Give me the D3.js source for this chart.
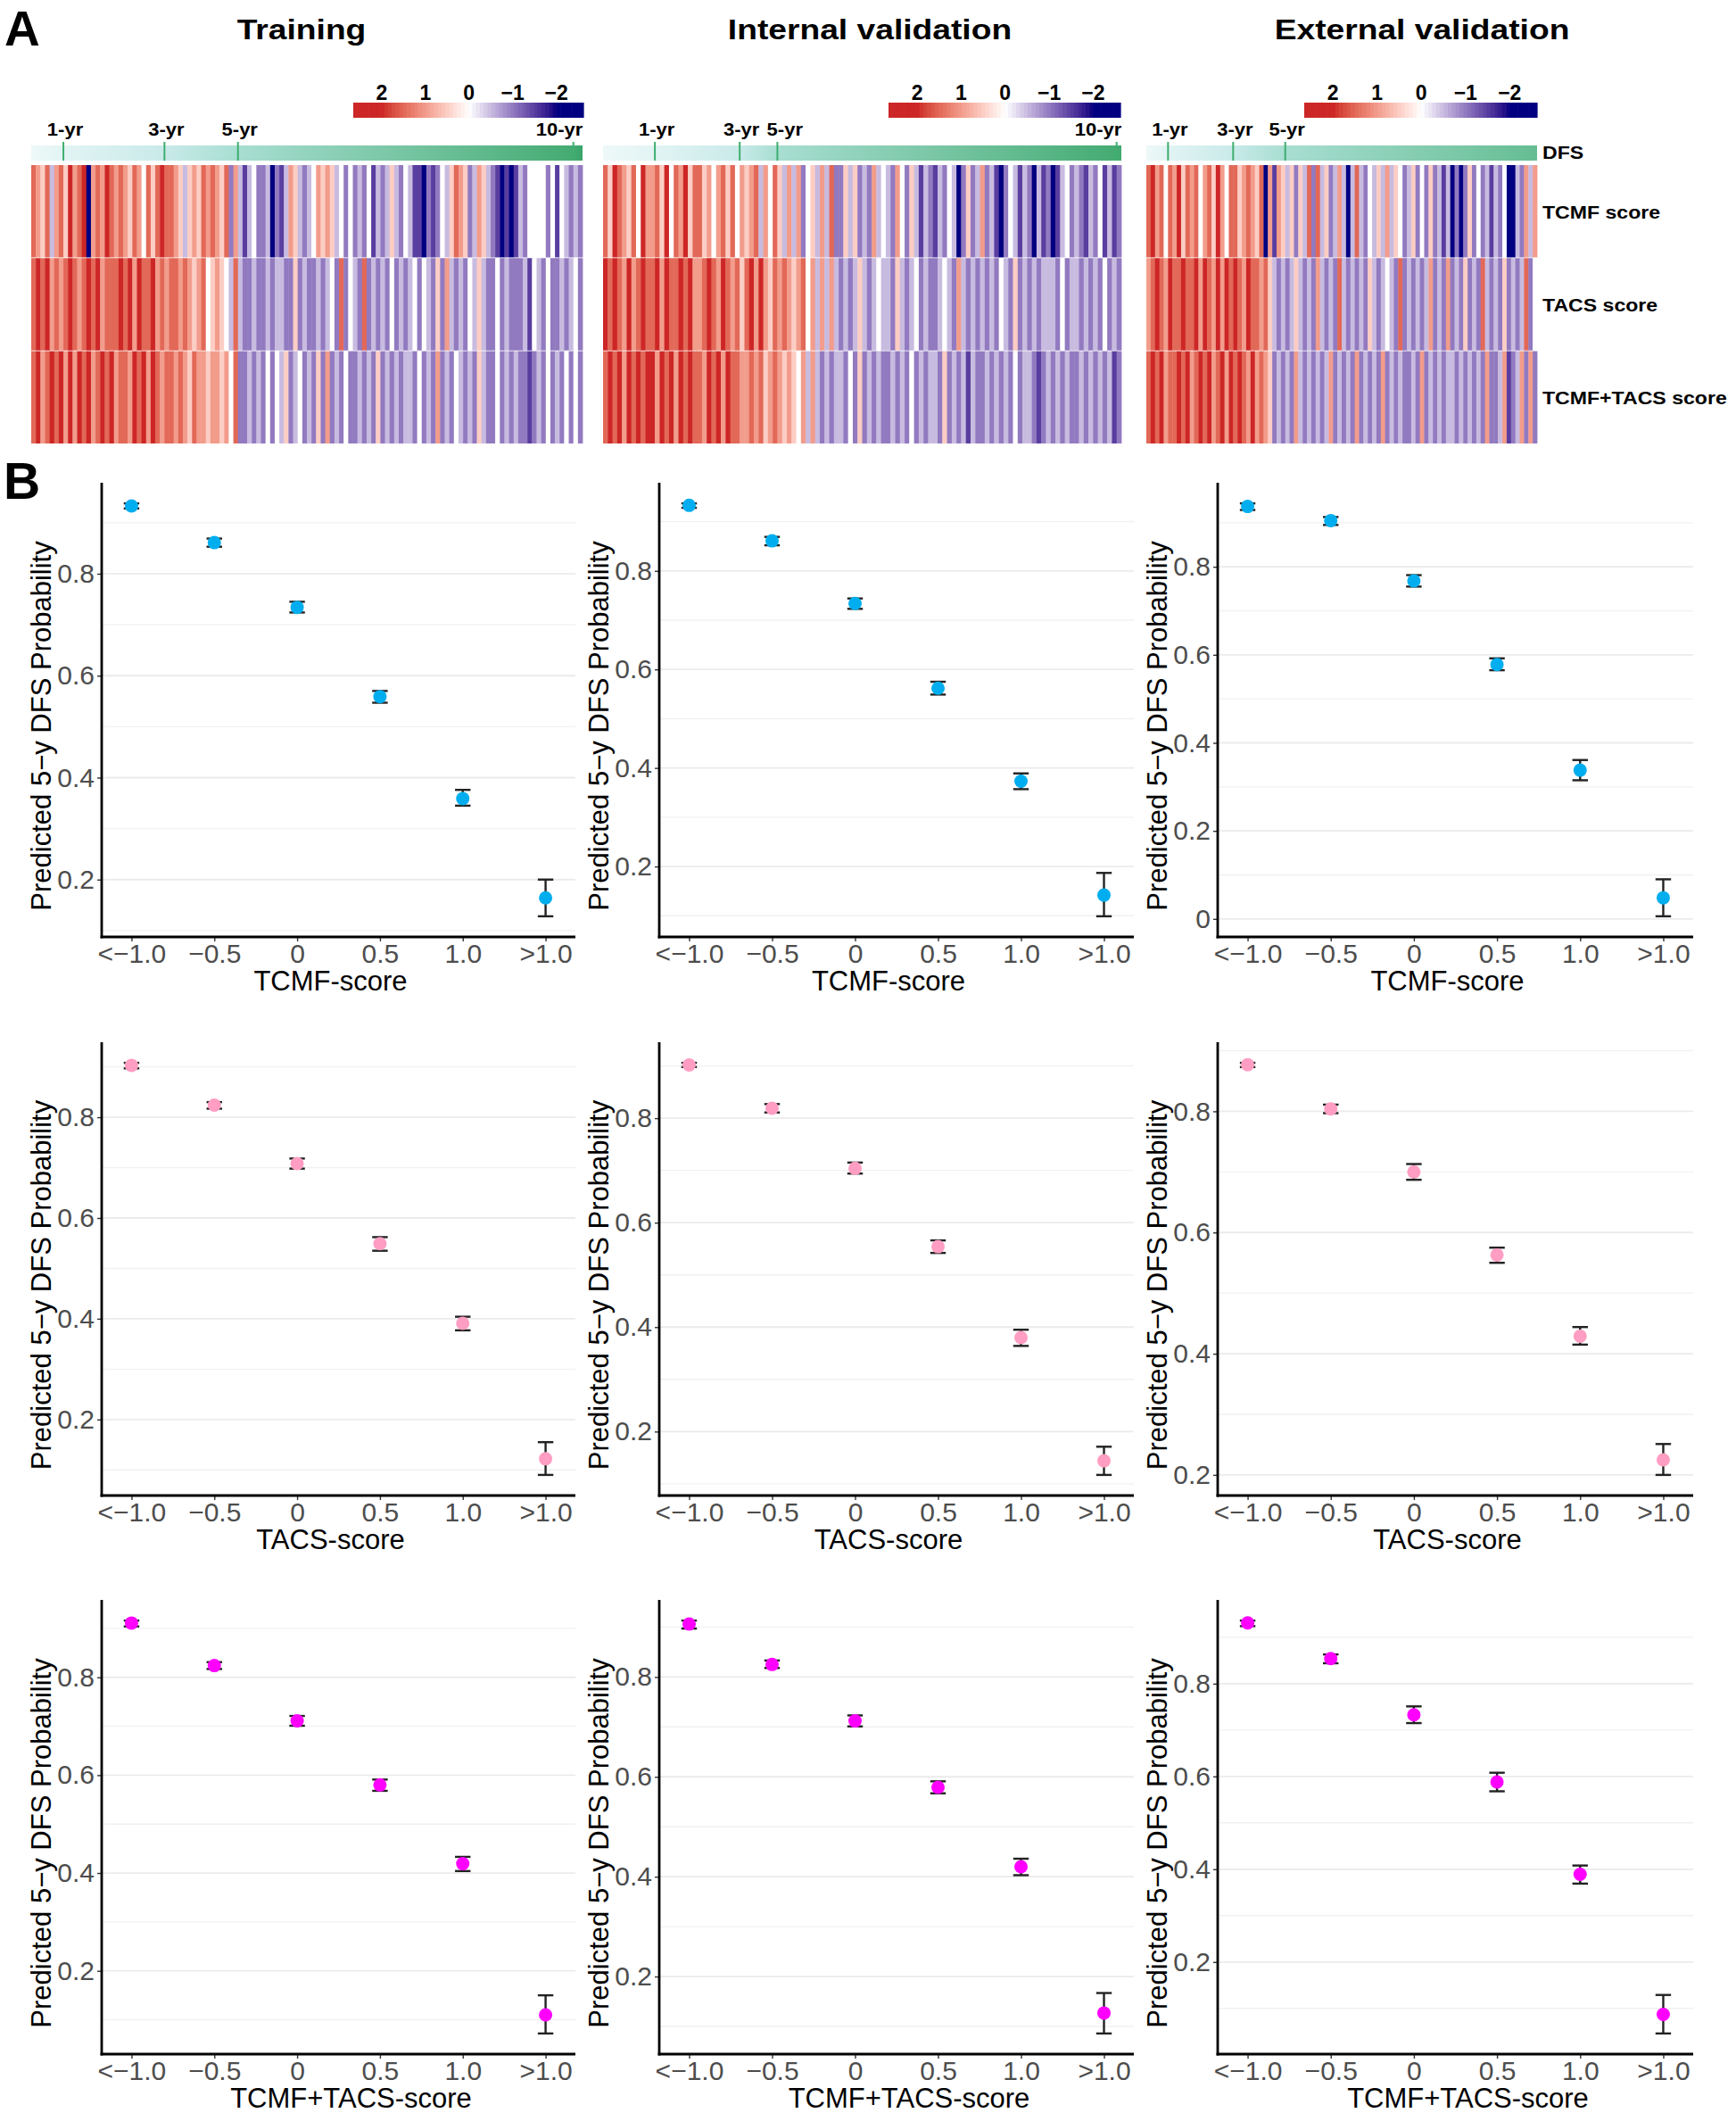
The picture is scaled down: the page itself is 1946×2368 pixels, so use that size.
<!DOCTYPE html>
<html><head><meta charset="utf-8">
<script src="https://cdn.jsdelivr.net/npm/d3@7"></script>
<style>
body{margin:0;background:#fff}
svg{display:block;font-family:"Liberation Sans",Arial,Helvetica,sans-serif}
</style></head>
<body><svg id="chart" width="1946" height="2368"></svg>
<script>
// ================= DATA =================
const cohorts = ["Training", "Internal validation", "External validation"];
const heatRowLabels = ["TCMF score", "TACS score", "TCMF+TACS score"];
const legendTicks = [2, 1, 0, -1, -2];
const legendTickLabels = ["2", "1", "0", "\u22121", "\u22122"];
const dfsYears = [1, 3, 5, 10];
const dfsYearLabels = ["1-yr", "3-yr", "5-yr", "10-yr"];
// patients are sorted by DFS time; number of columns before each year mark
const dfsCountTraining = [7, 29, 45, 118];
const dfsCountInternal = [11, 29, 37, 109];
const dfsCountExternal = [5, 20, 32];
const dfsMaxYears = [10.6, 10.2, 8.5];
// heatmap z-scores per patient column, digit d -> z = (d - 4) / 2
const heatTraining = [
  "7657367586"+"7806768767"+"6576475787"+"7653565767"+"6572631342"+"2302136532"+"3465653424"+"2324132353"+"2431102124"+"3576523653"+"2101013244"+"4424143232",
  "7878676787"+"6787867778"+"7868778676"+"7767656745"+"6543732232"+"2323322523"+"2232342724"+"3272323242"+"3234243252"+"6323243532"+"2423222314"+"3242232342",
  "7867878686"+"8786787867"+"7687868767"+"7676576656"+"6564722323"+"2424352342"+"3252623242"+"2323252323"+"2332423262"+"3243232532"+"2423232212"+"3242324242"
];
const heatInternal = [
  "7587657486"+"6758476857"+"7564675746"+"5673647536"+"3624536372"+"2535232634"+"3264253132"+"1324302523"+"6231024313"+"2031201342"+"3213241312",
  "8787686787"+"7868778786"+"6787687675"+"7868657676"+"5674636363"+"2323532343"+"3253234232"+"2343263232"+"3232432523"+"2323332423"+"3232324232",
  "7878687878"+"8687868787"+"7687868776"+"6767567656"+"5463632323"+"3242523232"+"2323242323"+"3252323132"+"2323232423"+"3212323232"+"2323232312"
];
const heatExternal = [
  "7867476857"+"6746758647"+"7567657061"+"6535253727"+"3523630373"+"2435363542"+"3524252313"+"0202524231"+"3240032636",
  "6787687787"+"7868768687"+"8768776753"+"2323532326"+"3232732323"+"2532343272"+"3232362326"+"2325232732"+"3252323724",
  "7878677878"+"6787867868"+"7876867652"+"3232632323"+"2362323262"+"3232623232"+"2326232323"+"3232323262"+"2361236262"
];

// Panel B
const xCategories = ["<\u22121.0", "\u22120.5", "0", "0.5", "1.0", ">1.0"];
const xTitles = ["TCMF-score", "TACS-score", "TCMF+TACS-score"];
const yTitle = "Predicted 5\u2212y DFS Probability";
const yTickValues = [0, 0.2, 0.4, 0.6, 0.8];
const yTickLabels = ["0", "0.2", "0.4", "0.6", "0.8"];
const yMinorValues = [0.1, 0.3, 0.5, 0.7, 0.9];

const tcmfTraining   = [0.933, 0.861, 0.734, 0.559, 0.359, 0.164];
const tcmfTrainingLo = [0.928, 0.853, 0.724, 0.547, 0.345, 0.128];
const tcmfTrainingHi = [0.938, 0.869, 0.745, 0.570, 0.376, 0.200];
const tcmfInternal   = [0.933, 0.861, 0.734, 0.562, 0.373, 0.142];
const tcmfInternalLo = [0.928, 0.852, 0.723, 0.549, 0.357, 0.099];
const tcmfInternalHi = [0.937, 0.869, 0.744, 0.575, 0.389, 0.187];
const tcmfExternal   = [0.937, 0.905, 0.768, 0.578, 0.338, 0.048];
const tcmfExternalLo = [0.929, 0.895, 0.755, 0.565, 0.315, 0.006];
const tcmfExternalHi = [0.944, 0.913, 0.781, 0.592, 0.361, 0.090];

const tacsTraining   = [0.903, 0.824, 0.708, 0.549, 0.391, 0.122];
const tacsTrainingLo = [0.897, 0.817, 0.698, 0.535, 0.377, 0.090];
const tacsTrainingHi = [0.908, 0.830, 0.718, 0.562, 0.404, 0.155];
const tacsInternal   = [0.902, 0.819, 0.704, 0.554, 0.380, 0.144];
const tacsInternalLo = [0.898, 0.811, 0.694, 0.542, 0.364, 0.117];
const tacsInternalHi = [0.906, 0.827, 0.715, 0.566, 0.395, 0.171];
const tacsExternal   = [0.877, 0.804, 0.700, 0.563, 0.429, 0.225];
const tacsExternalLo = [0.873, 0.797, 0.687, 0.550, 0.415, 0.200];
const tacsExternalHi = [0.880, 0.811, 0.713, 0.575, 0.444, 0.251];

const comboTraining   = [0.911, 0.824, 0.711, 0.580, 0.419, 0.110];
const comboTrainingLo = [0.904, 0.817, 0.701, 0.568, 0.404, 0.072];
const comboTrainingHi = [0.916, 0.831, 0.721, 0.591, 0.433, 0.150];
const comboInternal   = [0.906, 0.825, 0.712, 0.579, 0.420, 0.127];
const comboInternalLo = [0.897, 0.818, 0.701, 0.567, 0.403, 0.086];
const comboInternalHi = [0.913, 0.833, 0.723, 0.591, 0.436, 0.167];
const comboExternal   = [0.931, 0.854, 0.733, 0.588, 0.389, 0.087];
const comboExternalLo = [0.924, 0.844, 0.715, 0.568, 0.369, 0.046];
const comboExternalHi = [0.936, 0.863, 0.751, 0.608, 0.408, 0.129];

// ================= DRAW =================
const svg = d3.select("#chart");
svg.append("rect").attr("width", 1946).attr("height", 2368).attr("fill", "#fff");

function stext(g, x, y, str, o) {
  return g.append("text")
    .attr("transform", `translate(${x},${y}) scale(${o.k || 1},1)`)
    .attr("text-anchor", o.anchor || "start")
    .attr("font-size", o.size)
    .attr("font-weight", o.weight || "normal")
    .attr("fill", o.fill || "#000")
    .text(str);
}

// ---------- Panel A ----------
const A = svg.append("g");
stext(A, 5, 51, "A", {size: 55, weight: "bold"});

const heatColor = d3.scaleLinear().domain([-2, 0, 2])
  .range(["#000080", "#ffffff", "#CD2626"]).interpolate(d3.interpolateLab).clamp(true);
const dfsColor = d3.scaleLinear().domain([0, 1, 3, 5, 7, 10, 11])
  .range(["#eef8f8", "#e2f4f4", "#c9eae9", "#a8ded2", "#86cfb4", "#44ab72", "#33a063"]);

const heatX0 = [35, 676, 1285], heatX1 = [653, 1257, 1723];
const titleX = [338, 975, 1594];
const legX0 = [396, 996, 1462], legX1 = [654, 1256, 1723];
const heatData = [heatTraining, heatInternal, heatExternal];
const dfsCounts = [dfsCountTraining, dfsCountInternal, dfsCountExternal];
const dfsTop = 163, dfsBot = 180;
const rowBand = d3.scaleBand().domain(heatRowLabels).range([185, 497]).paddingInner(0.008);

const defs = svg.append("defs");

cohorts.forEach((name, ci) => {
  const g = A.append("g");
  stext(g, titleX[ci], 44, name, {size: 31, weight: "bold", anchor: "middle", k: 1.2});

  // legend
  const leg = d3.scaleLinear().domain([2.65, -2.62]).range([legX0[ci], legX1[ci]]);
  const nSteps = 60;
  const stepW = (legX1[ci] - legX0[ci]) / nSteps;
  d3.range(nSteps).forEach(i => {
    const px = legX0[ci] + i * stepW;
    g.append("rect").attr("x", px).attr("y", 115).attr("width", stepW + 0.6).attr("height", 17)
      .attr("fill", heatColor(leg.invert(px + stepW / 2)));
  });
  legendTicks.forEach((t, i) => {
    stext(g, leg(t), 112, legendTickLabels[i], {size: 23, weight: "bold", anchor: "middle"});
  });

  // heatmap columns
  const rows = heatData[ci];
  const n = d3.max(rows, s => s.length);
  const xb = d3.scaleBand().domain(d3.range(n)).range([heatX0[ci], heatX1[ci]]);
  rows.forEach((s, ri) => {
    const y0 = rowBand(heatRowLabels[ri]);
    g.append("g").selectAll("rect").data(s.split("").map(Number)).join("rect")
      .attr("x", (d, i) => xb(i)).attr("y", y0)
      .attr("width", xb.bandwidth() + 0.4).attr("height", rowBand.bandwidth())
      .attr("fill", d => heatColor((d - 4) / 2));
  });

  // DFS annotation bar (gradient through year marks)
  const counts = dfsCounts[ci];
  const xPos = c => xb(Math.min(c, n - 1));
  const gid = "dfsgrad" + ci;
  const grad = defs.append("linearGradient").attr("id", gid)
    .attr("gradientUnits", "userSpaceOnUse")
    .attr("x1", heatX0[ci]).attr("x2", heatX1[ci]).attr("y1", 0).attr("y2", 0);
  const stops = [[0, heatX0[ci]]].concat(counts.map((c, i) => [dfsYears[i], xPos(c)]))
    .concat([[dfsMaxYears[ci], heatX1[ci]]]);
  stops.forEach(([yr, px]) => {
    grad.append("stop").attr("offset", (px - heatX0[ci]) / (heatX1[ci] - heatX0[ci]))
      .attr("stop-color", dfsColor(yr));
  });
  g.append("rect").attr("x", heatX0[ci]).attr("y", dfsTop).attr("width", heatX1[ci] - heatX0[ci])
    .attr("height", dfsBot - dfsTop).attr("fill", `url(#${gid})`);
  let prevRight = -Infinity;
  counts.forEach((c, i) => {
    const px = xPos(c);
    g.append("line").attr("x1", px).attr("x2", px).attr("y1", 159).attr("y2", dfsBot)
      .attr("stroke", "#3fae6f").attr("stroke-width", 2);
    const label = dfsYearLabels[i];
    const half = label.length * 5.2;
    let cx = px + 2;
    if (cx - half < prevRight + 7) cx = prevRight + 7 + half;
    if (cx + half > heatX1[ci]) cx = heatX1[ci] - half;
    prevRight = cx + half;
    stext(g, cx, 152, label, {size: 20, weight: "bold", anchor: "middle", k: 1.1});
  });
});
// row labels
stext(A, 1729, 178, "DFS", {size: 21, weight: "bold", k: 1.1});
heatRowLabels.forEach(lbl => {
  stext(A, 1729, rowBand(lbl) + rowBand.bandwidth() / 2 + 8, lbl, {size: 21, weight: "bold", k: 1.1});
});

// ---------- Panel B ----------
const B = svg.append("g");
stext(B, 4, 559, "B", {size: 57, weight: "bold"});

const series = [
  [[tcmfTraining, tcmfTrainingLo, tcmfTrainingHi], [tcmfInternal, tcmfInternalLo, tcmfInternalHi], [tcmfExternal, tcmfExternalLo, tcmfExternalHi]],
  [[tacsTraining, tacsTrainingLo, tacsTrainingHi], [tacsInternal, tacsInternalLo, tacsInternalHi], [tacsExternal, tacsExternalLo, tacsExternalHi]],
  [[comboTraining, comboTrainingLo, comboTrainingHi], [comboInternal, comboInternalLo, comboInternalHi], [comboExternal, comboExternalLo, comboExternalHi]]
];
const pointColors = ["#00AEEF", "#FF9EC2", "#FF00FF"];
const pLeft = [114, 739, 1365], pRight = [645, 1271, 1898];
const pTop = [541, 1168, 1793], pBottom = [1050, 1676, 2302];
const xTitleShift = [-9, -9, 14];

series.forEach((rowS, r) => {
  rowS.forEach(([est, lo, hi], c) => {
    const g = B.append("g");
    const mn = d3.min(lo), mx = d3.max(hi), pad = 0.05 * (mx - mn);
    const y = d3.scaleLinear().domain([mn - pad, mx + pad]).range([pBottom[r], pTop[r]]);
    const x = d3.scalePoint().domain(xCategories).range([pLeft[c], pRight[c]]).padding(0.36);
    const inDom = v => v >= y.domain()[0] && v <= y.domain()[1];

    // grid
    g.append("g").selectAll("line").data(yMinorValues.filter(inDom)).join("line")
      .attr("x1", pLeft[c]).attr("x2", pRight[c]).attr("y1", d => y(d)).attr("y2", d => y(d))
      .attr("stroke", "#f1f1f1").attr("stroke-width", 1.4);
    const majors = yTickValues.filter(inDom);
    g.append("g").selectAll("line").data(majors).join("line")
      .attr("x1", pLeft[c]).attr("x2", pRight[c]).attr("y1", d => y(d)).attr("y2", d => y(d))
      .attr("stroke", "#ebebeb").attr("stroke-width", 1.8);

    // axes
    const ya = g.append("g").attr("transform", `translate(${pLeft[c]},0)`)
      .call(d3.axisLeft(y).tickValues(majors)
        .tickFormat(d => yTickLabels[yTickValues.indexOf(d)])
        .tickSize(5).tickSizeOuter(0).tickPadding(3));
    const xa = g.append("g").attr("transform", `translate(0,${pBottom[r]})`)
      .call(d3.axisBottom(x).tickSize(5).tickSizeOuter(0).tickPadding(3));
    [ya, xa].forEach(ax => {
      ax.selectAll("text").attr("font-size", 30).attr("fill", "#4d4d4d")
        .attr("font-family", "'Liberation Sans',Arial,sans-serif");
      ax.selectAll(".tick line").attr("stroke", "#333").attr("stroke-width", 1.4);
      ax.select(".domain").remove();
    });
    g.append("line").attr("x1", pLeft[c]).attr("x2", pLeft[c]).attr("y1", pTop[r]).attr("y2", pBottom[r] + 1.4)
      .attr("stroke", "#000").attr("stroke-width", 2.8);
    g.append("line").attr("x1", pLeft[c] - 1.4).attr("x2", pRight[c]).attr("y1", pBottom[r]).attr("y2", pBottom[r])
      .attr("stroke", "#000").attr("stroke-width", 2.8);

    // titles
    g.append("text")
      .attr("transform", `translate(${pLeft[c] - 57},${(pTop[r] + pBottom[r]) / 2 + 18}) rotate(-90)`)
      .attr("text-anchor", "middle").attr("font-size", 31).attr("fill", "#000").text(yTitle);
    g.append("text").attr("x", (pLeft[c] + pRight[c]) / 2 + xTitleShift[r]).attr("y", pBottom[r] + 60)
      .attr("text-anchor", "middle").attr("font-size", 31).attr("fill", "#000").text(xTitles[r]);

    // error bars
    const eb = g.append("g").attr("stroke", "#222").attr("stroke-width", 2.4);
    xCategories.forEach((cat, i) => {
      const cx = x(cat);
      eb.append("line").attr("x1", cx).attr("x2", cx).attr("y1", y(lo[i])).attr("y2", y(hi[i]));
      eb.append("line").attr("x1", cx - 8.7).attr("x2", cx + 8.7).attr("y1", y(lo[i])).attr("y2", y(lo[i]));
      eb.append("line").attr("x1", cx - 8.7).attr("x2", cx + 8.7).attr("y1", y(hi[i])).attr("y2", y(hi[i]));
    });
    // points
    g.append("g").selectAll("circle").data(est).join("circle")
      .attr("cx", (d, i) => x(xCategories[i])).attr("cy", d => y(d)).attr("r", 7.5)
      .attr("fill", pointColors[r]);
  });
});
</script>
</body></html>
